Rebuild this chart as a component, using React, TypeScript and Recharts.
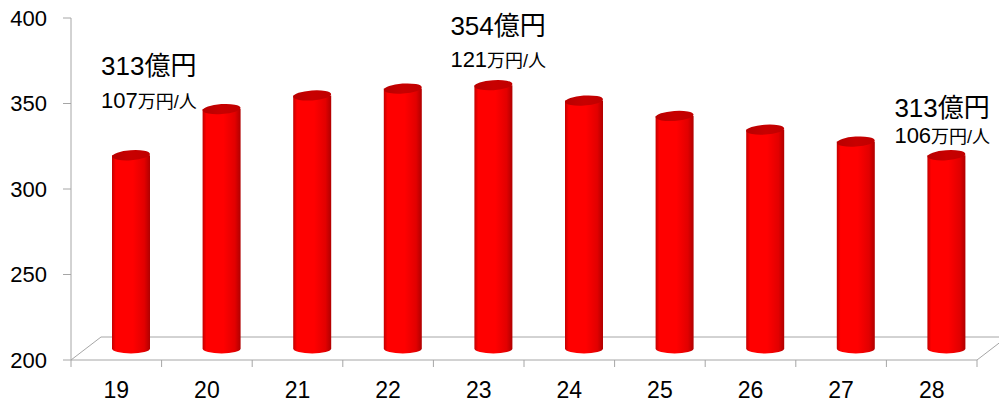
import React from 'react';
import { BarChart, Bar, XAxis, YAxis, CartesianGrid, LabelList } from 'recharts';

// ---- data ----
const categories = ['19', '20', '21', '22', '23', '24', '25', '26', '27', '28'];
const totals = [313, 340, 348, 352, 354, 345, 336, 328, 321, 313];
const calloutTotals: (number | null)[] = [313, null, null, null, 354, null, null, null, null, 313];
const calloutPerCapita: (number | null)[] = [107, null, null, null, 121, null, null, null, null, 106];
const yTicks = [200, 250, 300, 350, 400];

const data = categories.map((c, i) => ({
  category: c,
  value: totals[i],
  callTotal: calloutTotals[i],
  callPer: calloutPerCapita[i],
}));

// ---- layout / style ----
const W = 999;
const H = 403;
const MARGIN = { top: 18, right: 22, left: 0, bottom: 0 };
const Y_W = 71;
const X_H = 43;
const PLOT_W = W - Y_W - MARGIN.right;
const DEPTH_X = 30;
const DEPTH_Y = 23;
const AXIS_GRAY = '#a6a6a6';
const FONT = "'Liberation Sans', 'Noto Sans CJK JP', sans-serif";
const CALLOUT_POS: Record<string, { dx: number; dy: number; gap: number }> = {
  '19': { dx: -30, dy: -80, gap: 33 },
  '23': { dx: -43, dy: -50, gap: 32 },
  '28': { dx: -52, dy: -38, gap: 26 },
};

const Cylinder = (p: any) => {
  const { x, y, width, height } = p;
  if (height == null || width == null) return null;
  const left = x + DEPTH_X / 2;
  const top = y - DEPTH_Y / 2;
  const rx = width / 2;
  const ry = 5;
  const cx = left + rx;
  const bottom = top + height;
  return (
    <g>
      <path
        d={`M${left},${top} L${left},${bottom} A${rx},${ry} 0 0 0 ${left + width},${bottom} L${left + width},${top} Z`}
        fill="url(#cylGrad)"
      />
      <ellipse
        cx={cx}
        cy={top}
        rx={rx}
        ry={ry}
        fill="url(#capGrad)"
        transform={`rotate(-4 ${cx} ${top})`}
      />
    </g>
  );
};

const Floor = (p: any) => {
  const { x1, y1, x2, y2 } = p;
  return (
    <g key={`floor-${p.index}`} stroke={AXIS_GRAY} strokeWidth={1} fill="none">
      <line x1={x1} y1={y1} x2={x2} y2={y2} />
      <line x1={x1 + DEPTH_X} y1={y1 - DEPTH_Y} x2={x2 + DEPTH_X} y2={y2 - DEPTH_Y} />
      <line x1={x1} y1={y1} x2={x1 + DEPTH_X} y2={y1 - DEPTH_Y} />
      <line x1={x2} y1={y2} x2={x2 + DEPTH_X} y2={y2 - DEPTH_Y} />
    </g>
  );
};

const XTick = (p: any) => {
  const { x, y, payload, index } = p;
  const bw = PLOT_W / categories.length;
  return (
    <g>
      <line x1={x - bw / 2} y1={y} x2={x - bw / 2} y2={y + 7} stroke={AXIS_GRAY} />
      {index === categories.length - 1 && (
        <line x1={x + bw / 2} y1={y} x2={x + bw / 2} y2={y + 7} stroke={AXIS_GRAY} />
      )}
      <text x={x} y={y + 38} textAnchor="middle" fontSize={23} fill="#000" fontFamily={FONT}>
        {payload.value}
      </text>
    </g>
  );
};

const Callout = (p: any) => {
  const vb = p.viewBox || {};
  const x = p.x ?? vb.x;
  const y = p.y ?? vb.y;
  const width = p.width ?? vb.width;
  const d = data[p.index];
  if (!d || d.callTotal == null) return null;
  const pos = CALLOUT_POS[d.category];
  const cx = x + DEPTH_X / 2 + width / 2;
  const top = y - DEPTH_Y / 2;
  const lx = cx + pos.dx;
  return (
    <g fontFamily={FONT} fill="#000">
      <text x={lx} y={top + pos.dy} fontSize={26}>
        {`${d.callTotal}億円`}
      </text>
      <text x={lx} y={top + pos.dy + pos.gap}>
        <tspan fontSize={22}>{d.callPer}</tspan>
        <tspan fontSize={18}>万円/人</tspan>
      </text>
    </g>
  );
};

export default function App() {
  return (
    <div style={{ position: 'absolute', left: 0, top: 0, width: W, height: H, background: '#fff' }}>
      <BarChart width={W} height={H} data={data} margin={MARGIN} style={{ fontFamily: FONT }}>
        <defs>
          <linearGradient id="cylGrad" x1="0" y1="0" x2="1" y2="0">
            <stop offset="0%" stopColor="#c40000" />
            <stop offset="10%" stopColor="#ff0000" />
            <stop offset="55%" stopColor="#ff0000" />
            <stop offset="85%" stopColor="#e20000" />
            <stop offset="100%" stopColor="#b00000" />
          </linearGradient>
          <linearGradient id="capGrad" x1="0" y1="0" x2="1" y2="0">
            <stop offset="0%" stopColor="#b80000" />
            <stop offset="50%" stopColor="#c80000" />
            <stop offset="100%" stopColor="#c00000" />
          </linearGradient>
        </defs>
        <CartesianGrid vertical={false} horizontal={Floor} horizontalValues={[200]} />
        <XAxis
          dataKey="category"
          height={X_H}
          axisLine={false}
          tickLine={false}
          tickSize={0}
          tickMargin={0}
          tick={XTick}
          interval={0}
        />
        <YAxis
          width={Y_W}
          domain={[200, 400]}
          ticks={yTicks}
          allowDataOverflow
          axisLine={{ stroke: AXIS_GRAY }}
          tickLine={{ stroke: AXIS_GRAY }}
          tickSize={8}
          tickMargin={16}
          tick={{ fontSize: 22, fill: '#000', fontFamily: FONT }}
        />
        <Bar dataKey="value" barSize={38} shape={Cylinder} isAnimationActive={false}>
          <LabelList dataKey="value" content={Callout} />
        </Bar>
      </BarChart>
    </div>
  );
}
